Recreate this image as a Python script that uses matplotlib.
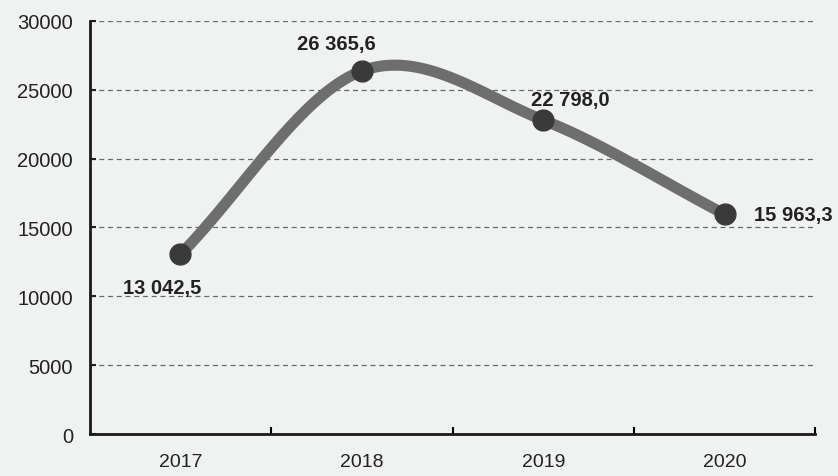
import matplotlib.pyplot as plt
import numpy as np

years = ['2017', '2018', '2019', '2020']
values = [13042.5, 26365.6, 22798.0, 15963.3]
labels = ['13 042,5', '26 365,6', '22 798,0', '15 963,3']


def smooth(xs, ys, n=40):
    # catmull-rom curve through the points, like a spreadsheet "smoothed line"
    xs = np.asarray(xs, float)
    ys = np.asarray(ys, float)
    px = np.concatenate([[2 * xs[0] - xs[1]], xs, [2 * xs[-1] - xs[-2]]])
    py = np.concatenate([[2 * ys[0] - ys[1]], ys, [2 * ys[-1] - ys[-2]]])
    outx, outy = [], []
    t = np.linspace(0, 1, n)
    for i in range(1, len(px) - 2):
        for p, out in ((px, outx), (py, outy)):
            p0, p1, p2, p3 = p[i - 1], p[i], p[i + 1], p[i + 2]
            out.extend(0.5 * (2 * p1 + (-p0 + p2) * t
                              + (2 * p0 - 5 * p1 + 4 * p2 - p3) * t ** 2
                              + (-p0 + 3 * p1 - 3 * p2 + p3) * t ** 3))
    return outx, outy


plt.rcParams['font.family'] = ['Liberation Sans', 'DejaVu Sans']
bg = '#f0f1f1'
fig = plt.figure(figsize=(8.38, 4.77), dpi=100, facecolor=bg)
ax = fig.add_axes([0.107, 0.088, 0.866, 0.866], facecolor=bg)

x = np.arange(len(years))
sx, sy = smooth(x, values)
ax.plot(sx, sy, color='#6e6e6e', lw=8, solid_capstyle='round', zorder=3)
ax.plot(x, values, 'o', color='#3a3a3a', ms=15, zorder=4)

offsets = [(-0.1, -2400, 'center'), (-0.14, 2000, 'center'),
           (0.15, 1500, 'center'), (0.16, 0, 'left')]
for xi, v, lab, (dx, dy, ha) in zip(x, values, labels, offsets):
    ax.text(xi + dx, v + dy, lab, ha=ha, va='center', fontsize=14.5,
            fontweight='bold', color='#222222', zorder=5)

ax.set_xlim(-0.5, 3.5)
ax.set_ylim(0, 30000)
ax.set_yticks(range(0, 30001, 5000))
ax.set_xticks(x)
ax.set_xticklabels(years)
ax.set_xticks([0.5, 1.5, 2.5, 3.5], minor=True)
ax.tick_params(axis='x', which='major', length=0, labelsize=14, pad=14)
ax.tick_params(axis='x', which='minor', direction='in', length=5, width=1.5)
ax.tick_params(axis='y', direction='in', length=4, width=1.5, labelsize=14.5, pad=12)
for v in range(5000, 30001, 5000):
    ax.axhline(v, color='#6a6a6a', lw=0.9, ls=(0, (4, 3)), zorder=1)

for s in ['top', 'right']:
    ax.spines[s].set_visible(False)
for s in ['left', 'bottom']:
    ax.spines[s].set_linewidth(2)
    ax.spines[s].set_color('#1a1a1a')
ax.tick_params(colors='#222222')

fig.savefig('out.png', dpi=100, facecolor=bg)
